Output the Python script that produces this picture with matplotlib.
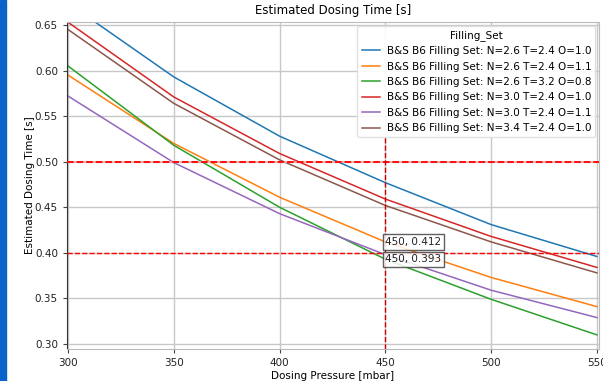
import matplotlib
matplotlib.use("Agg")
import matplotlib.pyplot as plt
from matplotlib.patches import Rectangle

# Dosing pressure sweep [mbar]
pressure = [300, 350, 400, 450, 500, 550]

# Filling set labels
labels = [
    "B&S B6 Filling Set: N=2.6 T=2.4 O=1.0",
    "B&S B6 Filling Set: N=2.6 T=2.4 O=1.1",
    "B&S B6 Filling Set: N=2.6 T=3.2 O=0.8",
    "B&S B6 Filling Set: N=3.0 T=2.4 O=1.0",
    "B&S B6 Filling Set: N=3.0 T=2.4 O=1.1",
    "B&S B6 Filling Set: N=3.4 T=2.4 O=1.0",
]

# Estimated dosing time [s] per filling set
t_n26_t24_o10 = [0.674, 0.593, 0.528, 0.477, 0.431, 0.396]
t_n26_t24_o11 = [0.595, 0.520, 0.461, 0.412, 0.373, 0.341]
t_n26_t32_o08 = [0.605, 0.518, 0.450, 0.393, 0.349, 0.310]
t_n30_t24_o10 = [0.653, 0.571, 0.509, 0.459, 0.418, 0.384]
t_n30_t24_o11 = [0.572, 0.499, 0.443, 0.398, 0.359, 0.329]
t_n34_t24_o10 = [0.645, 0.564, 0.502, 0.452, 0.412, 0.378]

series = [t_n26_t24_o10, t_n26_t24_o11, t_n26_t32_o08,
          t_n30_t24_o10, t_n30_t24_o11, t_n34_t24_o10]
colors = ["#1f77b4", "#ff7f0e", "#2ca02c", "#d62728", "#9467bd", "#8c564b"]

# Target limits and operating point
limit_high = 0.50
limit_low = 0.40
op_pressure = 450
marked_values = [0.412, 0.393]

fig = plt.figure(figsize=(6.03, 3.81), dpi=100)
ax = fig.add_axes([0.1111, 0.0840, 0.8823, 0.8583])

for y, lab, c in zip(series, labels, colors):
    ax.plot(pressure, y, color=c, lw=1.1, label=lab)

ax.axhline(limit_high, color="#ffb3b3", ls="-", lw=1.3, zorder=3)
ax.axhline(limit_high, color="red", ls="--", lw=1.3, zorder=3)
ax.axhline(limit_low, color="red", ls="--", lw=1.0, zorder=3)
ax.axvline(op_pressure, ymax=0.65, color="#cc0000", ls="--", lw=1.0, zorder=3)

for v in marked_values:
    ax.text(op_pressure, v, f"{op_pressure}, {v:.3f}", fontsize=7.5,
            ha="left", va="center", color="#222222", zorder=5,
            bbox=dict(boxstyle="square,pad=0.25", fc="white", ec="#444444",
                      lw=1.0, alpha=0.85))

ax.set_xlim(299.5, 551)
ax.set_ylim(0.2945, 0.6533)
ax.set_xticks(pressure)
ax.set_yticks([0.30, 0.35, 0.40, 0.45, 0.50, 0.55, 0.60, 0.65])
ax.set_yticklabels([f"{t:.2f}" for t in ax.get_yticks()])

ax.grid(True, color="#c8c8c8", lw=1.0)
ax.set_axisbelow(True)
for side in ("top", "right", "bottom"):
    ax.spines[side].set_color("#bbbbbb")
ax.spines["left"].set_color("#333333")
ax.tick_params(labelsize=7.5, length=3, color="#444444", labelcolor="#222222")

ax.set_title("Estimated Dosing Time [s]", fontsize=8.5, pad=6)
ax.set_xlabel("Dosing Pressure [mbar]", fontsize=7.5, labelpad=2)
ax.set_ylabel("Estimated Dosing Time [s]", fontsize=7.5, labelpad=0)

leg = ax.legend(title="Filling_Set", loc="upper right", fontsize=7.5,
                title_fontsize=7.5, framealpha=0.9, edgecolor="#dddddd",
                borderaxespad=0.35, handlelength=1.8, handletextpad=0.6,
                labelspacing=0.52)
leg.set_zorder(10)

fig.patches.append(Rectangle((0, 0), 6 / 603, 1, transform=fig.transFigure,
                             color="#0a63c9", zorder=20))

fig.savefig("out.png", dpi=100)
